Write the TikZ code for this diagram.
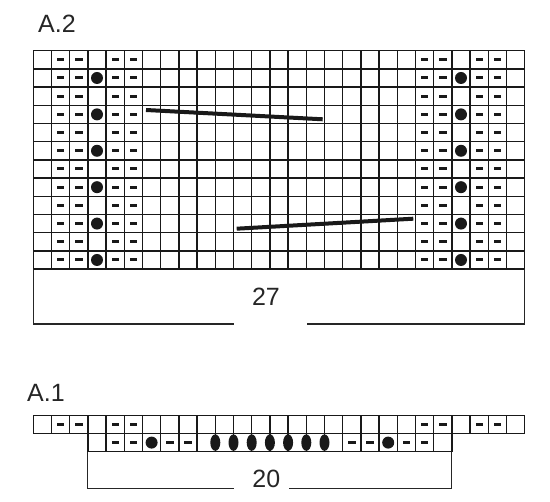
\documentclass[tikz,border=0pt]{standalone}
\usepackage{fontspec}
\setmainfont{Liberation Sans}
\usetikzlibrary{shapes.geometric,positioning,calc}

\begin{document}
\begin{tikzpicture}[x=1pt,y=-1pt,font=\fontsize{25}{30}\selectfont]

	\tikzstyle{gridline}=[draw=black!90,line width=1.4pt]
	\tikzstyle{purl}=[rectangle,fill=black!90,draw=none,inner sep=0pt,
	minimum width=7.4pt,minimum height=3pt]
	\tikzstyle{bobble}=[circle,fill=black!90,draw=none,inner sep=0pt,minimum size=12pt]
	\tikzstyle{nupp}=[ellipse,fill=black!90,draw=none,inner sep=0pt,
	minimum width=10pt,minimum height=16.5pt]
	\tikzstyle{cable}=[draw=black!90,line width=4pt]
	\tikzstyle{rimline}=[draw=black!85,line width=1.1pt]
	\tikzstyle{chartlabel}=[inner sep=0pt,text=black!85]

	\useasboundingbox (0,0) rectangle (550,502);

	%chart A.2
	\node[chartlabel,anchor=base west] (titleA2) at (38,32.3) {A.2};

	\begin{scope}[shift={(33.3pt,-50.7pt)},x=18.2pt,y=-18.2pt]
		\foreach \c in {0,...,27} \draw[gridline] (\c,0) -- (\c,12);
		\foreach \r in {0,...,12} \draw[gridline] (0,\r) -- (27,\r);
		\foreach \r in {1,...,12}
			\foreach \c in {2,3,5,6,22,23,25,26}
				\node[purl] (pA2-\r-\c) at (\c-0.5,\r-0.5) {};
		\foreach \r in {2,4,...,12}
			\foreach \c in {4,24}
				\node[bobble] (bA2-\r-\c) at (\c-0.5,\r-0.5) {};
	\end{scope}

	%cables
	\coordinate (cableUpA) at (146,110);
	\coordinate (cableUpB) at (322.7,119.3);
	\coordinate (cableLoA) at (236.7,228.7);
	\coordinate (cableLoB) at (413.3,218.7);
	\draw[cable] (cableUpA) -- (cableUpB);
	\draw[cable] (cableLoA) -- (cableLoB);

	%width A.2
	\node[chartlabel,anchor=base] (widthA2) at (266,306) {27};
	\draw[rimline] (33.3,269.3) |- (234,324);
	\draw[rimline] (307.3,324) -| (524.7,269.3);

	%chart A.1
	\node[chartlabel,anchor=base west] (titleA1) at (27,401.7) {A.1};

	\begin{scope}[shift={(33.3pt,-415.3pt)},x=18.2pt,y=-18.2pt]
		\foreach \c in {0,...,27} \draw[gridline] (\c,0) -- (\c,1);
		\foreach \c in {3,...,23} \draw[gridline] (\c,1) -- (\c,2);
		\draw[gridline] (0,0) -- (27,0);
		\draw[gridline] (0,1) -- (27,1);
		\draw[gridline] (3,2) -- (23,2);
		\foreach \c in {2,3,5,6,22,23,25,26}
			\node[purl] (pA1-1-\c) at (\c-0.5,0.5) {};
		\foreach \c in {5,6,8,9,18,19,21,22}
			\node[purl] (pA1-2-\c) at (\c-0.5,1.5) {};
		\foreach \c in {7,20}
			\node[bobble] (bA1-2-\c) at (\c-0.5,1.5) {};
		\foreach \c in {10,...,16}
			\node[nupp] (nA1-\c) at (\c,1.5) {};
	\end{scope}

	%width A.1
	\node[chartlabel,anchor=base] (widthA1) at (266.3,487.5) {20};
	\draw[rimline] (87.9,451.7) |- (234,488.3);
	\draw[rimline] (289.3,488.3) -| (451.9,451.7);

\end{tikzpicture}
\end{document}
